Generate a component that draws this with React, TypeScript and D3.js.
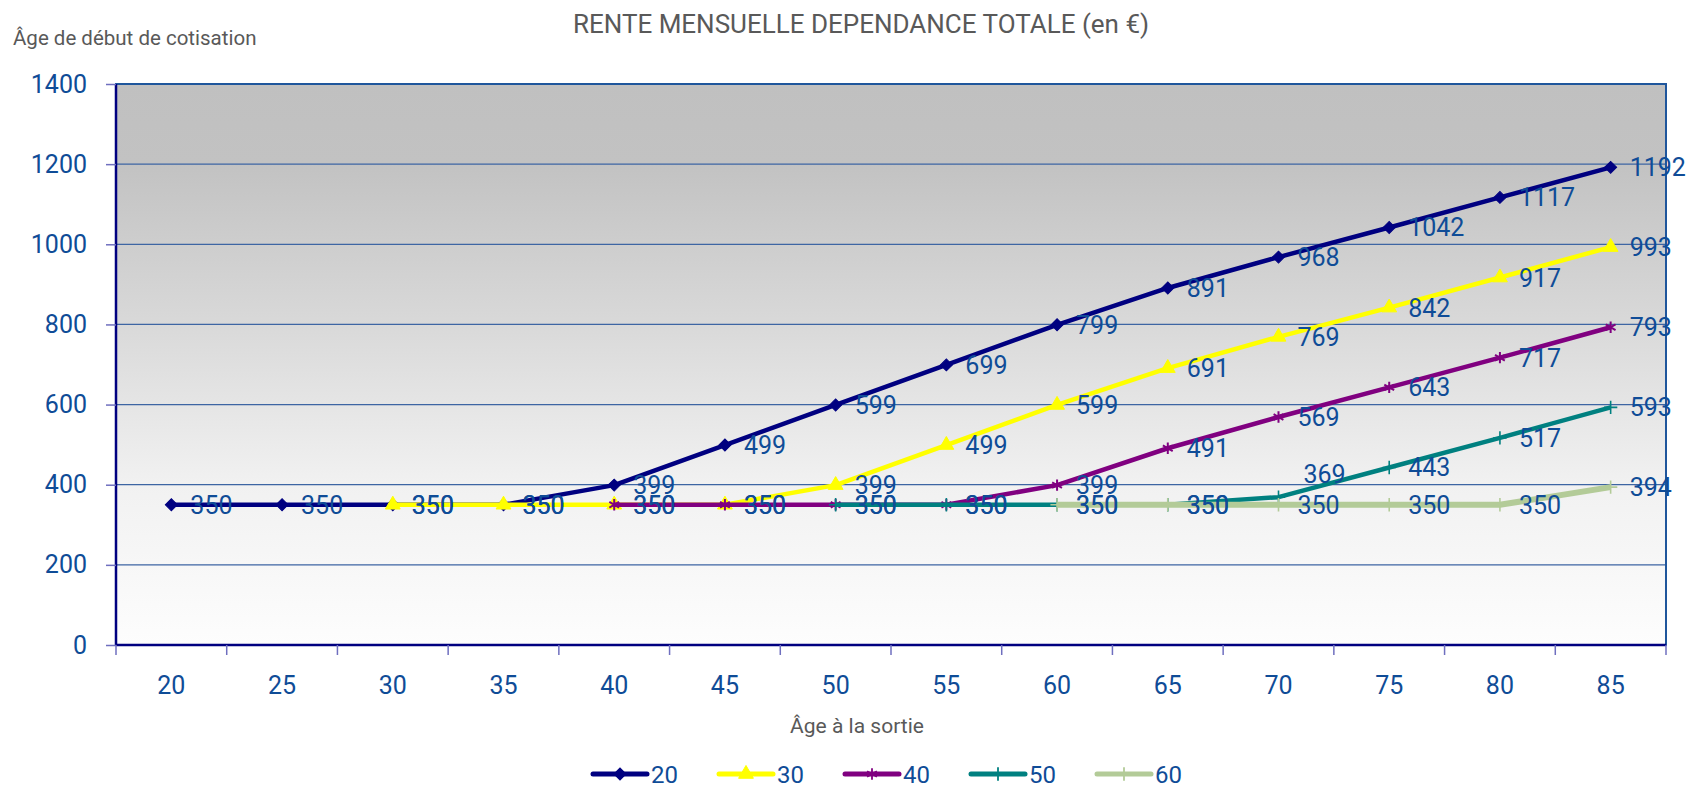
import { useEffect, useRef } from "react";
import * as d3 from "d3";

// Âge à la sortie (catégories de l'axe X)
const ages = [20, 25, 30, 35, 40, 45, 50, 55, 60, 65, 70, 75, 80, 85];

// Âge de début de cotisation -> rente mensuelle, à partir de son âge de départ
const serie20 = [350, 350, 350, 350, 399, 499, 599, 699, 799, 891, 968, 1042, 1117, 1192];
const serie30 = [350, 350, 350, 350, 399, 499, 599, 691, 769, 842, 917, 993];
const serie40 = [350, 350, 350, 350, 399, 491, 569, 643, 717, 793];
const serie50 = [350, 350, 350, 350, 369, 443, 517, 593];
const serie60 = [350, 350, 350, 350, 350, 394];

const seriesNames = ["20", "30", "40", "50", "60"];
const seriesValues = [serie20, serie30, serie40, serie50, serie60];
const yTicks = [0, 200, 400, 600, 800, 1000, 1200, 1400];

const colors = ["#000080", "#ffff00", "#800080", "#008080", "#b3cb98"];
const lineWidths = [4.5, 4.5, 4.5, 4.5, 6];
const font = "Roboto, 'DejaVu Sans', sans-serif";
const blueText = "#0f4c97";

const W = 1702;
const H = 788;
const marginLeft = 116;
const marginRight = 36;
const marginTop = 84;
const marginBottom = 143;

// étiquette déplacée à la main dans l'original
const labelNudge: Record<string, [number, number]> = { "50-70": [6, -23] };

const markerPath = (i: number) => {
  if (i === 0) return d3.symbol(d3.symbolSquare, 72)();
  if (i === 1) return d3.symbol(d3.symbolTriangle, 95)();
  if (i === 2) return d3.symbol(d3.symbolAsterisk, 90)();
  return d3.symbol(d3.symbolPlus, 60)();
};

const App = () => {
  const yAxisRef = useRef<SVGGElement>(null);

  const x = d3
    .scaleBand<string>()
    .domain(ages.map(String))
    .range([marginLeft, W - marginRight]);
  const cx = (a: number) => (x(String(a)) as number) + x.bandwidth() / 2;
  const y = d3.scaleLinear().domain([0, 1400]).range([H - marginBottom, marginTop]);

  const series = seriesValues.map((vals, i) => {
    const start = ages.length - vals.length;
    return {
      name: seriesNames[i],
      points: vals.map((v, j) => ({ age: ages[start + j], value: v })),
    };
  });

  const line = d3
    .line<{ age: number; value: number }>()
    .x((d) => cx(d.age))
    .y((d) => y(d.value));

  useEffect(() => {
    const g = d3.select(yAxisRef.current);
    g.call(
      d3.axisLeft(y).tickValues(yTicks).tickFormat(d3.format("d")).tickSize(10).tickPadding(19)
    );
    g.select(".domain").remove();
    g.selectAll(".tick line").attr("stroke", "#6f6fbf").attr("stroke-width", 1.5);
    g.selectAll(".tick text")
      .attr("font-family", font)
      .attr("font-size", 25)
      .attr("fill", blueText);
  }, []);

  const plotW = W - marginRight - marginLeft;
  const plotBottom = H - marginBottom;
  const boundaries = [...x.domain().map((d) => x(d) as number), W - marginRight];

  return (
    <div style={{ position: "absolute", left: 0, top: 0 }}>
      <svg width={W} height={H} viewBox={`0 0 ${W} ${H}`} style={{ display: "block", background: "#fff" }}>
        <defs>
          <linearGradient id="plotBg" x1="0" y1="0" x2="0" y2="1">
            <stop offset="0" stopColor="#c0c0c0" />
            <stop offset="0.14" stopColor="#c2c2c2" />
            <stop offset="0.43" stopColor="#d9d9d9" />
            <stop offset="0.71" stopColor="#f1f1f1" />
            <stop offset="1" stopColor="#fdfdfd" />
          </linearGradient>
        </defs>

        <text x={861} y={33} textAnchor="middle" fontFamily={font} fontSize={26} fill="#595959">
          RENTE MENSUELLE DEPENDANCE TOTALE (en €)
        </text>
        <text x={13} y={45} fontFamily={font} fontSize={20.5} fill="#595959">
          Âge de début de cotisation
        </text>

        <rect x={marginLeft} y={marginTop} width={plotW} height={plotBottom - marginTop} fill="url(#plotBg)" />

        {yTicks.slice(1, -1).map((t) => (
          <line key={t} x1={marginLeft} x2={W - marginRight} y1={y(t)} y2={y(t)} stroke="#3d65a3" strokeWidth={1.2} />
        ))}

        <rect
          x={marginLeft}
          y={marginTop}
          width={plotW}
          height={plotBottom - marginTop}
          fill="none"
          stroke="#1f569c"
          strokeWidth={2}
        />
        <line x1={marginLeft} x2={marginLeft} y1={marginTop} y2={plotBottom} stroke="#000080" strokeWidth={2.5} />
        <line x1={marginLeft} x2={W - marginRight} y1={plotBottom} y2={plotBottom} stroke="#000080" strokeWidth={2.5} />

        <g className="y-axis" ref={yAxisRef} transform={`translate(${marginLeft},0)`}></g>

        <g className="x-axis">
          {boundaries.map((b, i) => (
            <line key={i} x1={b} x2={b} y1={plotBottom} y2={plotBottom + 10} stroke="#6f6fbf" strokeWidth={1.5} />
          ))}
          {ages.map((a) => (
            <text key={a} x={cx(a)} y={plotBottom + 49} textAnchor="middle" fontFamily={font} fontSize={25} fill={blueText}>
              {a}
            </text>
          ))}
        </g>
        <text x={857} y={733} textAnchor="middle" fontFamily={font} fontSize={21} fill="#595959">
          Âge à la sortie
        </text>

        {series.map((s, i) => (
          <g key={s.name}>
            <path d={line(s.points) || ""} fill="none" stroke={colors[i]} strokeWidth={lineWidths[i]} strokeLinejoin="round" />
            {s.points.map((p) => (
              <path
                key={p.age}
                d={markerPath(i) || ""}
                transform={`translate(${cx(p.age)},${y(p.value)})${i === 0 ? " rotate(45)" : ""}`}
                fill={i <= 1 ? colors[i] : "none"}
                stroke={colors[i]}
                strokeWidth={i <= 1 ? 1 : i === 2 ? 2 : 1.6}
              />
            ))}
          </g>
        ))}

        {series.map((s, i) => (
          <g key={`lbl-${s.name}`}>
            {s.points.map((p) => {
              const [ndx, ndy] = labelNudge[`${s.name}-${p.age}`] || [0, 0];
              return (
                <text
                  key={p.age}
                  x={cx(p.age) + 19 + ndx}
                  y={y(p.value) + ndy}
                  dy="0.36em"
                  fontFamily={font}
                  fontSize={25}
                  fill={blueText}
                >
                  {p.value}
                </text>
              );
            })}
          </g>
        ))}

        <g className="legend">
          {series.map((s, i) => {
            const lx = 593 + i * 126;
            const ly = 774;
            return (
              <g key={`leg-${s.name}`}>
                <line x1={lx} x2={lx + 54} y1={ly} y2={ly} stroke={colors[i]} strokeWidth={5} strokeLinecap="round" />
                <path
                  d={markerPath(i) || ""}
                  transform={`translate(${lx + 27},${ly})${i === 0 ? " rotate(45)" : ""}`}
                  fill={i <= 1 ? colors[i] : "none"}
                  stroke={colors[i]}
                  strokeWidth={i <= 1 ? 1 : 1.8}
                />
                <text x={lx + 58} y={ly} dy="0.36em" fontFamily={font} fontSize={24} fill={blueText}>
                  {s.name}
                </text>
              </g>
            );
          })}
        </g>
      </svg>
    </div>
  );
};

export default App;
